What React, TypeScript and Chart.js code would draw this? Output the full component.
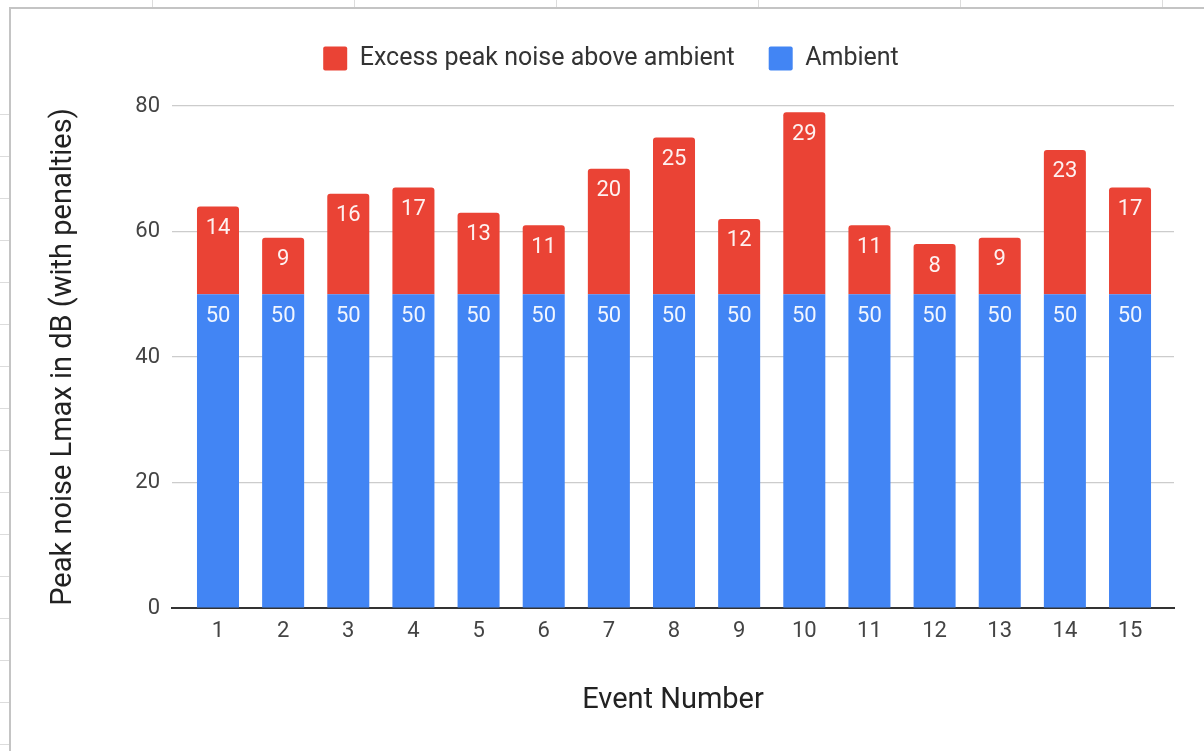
import React, { useEffect, useRef } from "react";
import { Chart, registerables } from "chart.js";

Chart.register(...registerables);

// ---- data ----
const categories: number[] = [1, 2, 3, 4, 5, 6, 7, 8, 9, 10, 11, 12, 13, 14, 15];
const ambientValues: number[] = [50, 50, 50, 50, 50, 50, 50, 50, 50, 50, 50, 50, 50, 50, 50];
const excessValues: number[] = [14, 9, 16, 17, 13, 11, 20, 25, 12, 29, 11, 8, 9, 23, 17];
const yTickValues: number[] = [0, 20, 40, 60, 80];
const excessLabel = "Excess peak noise above ambient";
const ambientLabel = "Ambient";
const xTitle = "Event Number";
const yTitle = "Peak noise Lmax in dB (with penalties)";

const RED = "#EA4335";
const BLUE = "#4285F4";
const FONT = "Roboto, 'Noto Sans', Arial, sans-serif";

const barLabels = {
  id: "barLabels",
  afterDatasetsDraw(chart: any) {
    const ctx = chart.ctx;
    ctx.save();
    ctx.font = `22px ${FONT}`;
    ctx.fillStyle = "rgba(255,255,255,0.93)";
    ctx.textAlign = "center";
    ctx.textBaseline = "middle";
    chart.data.datasets.forEach((ds: any, di: number) => {
      const meta = chart.getDatasetMeta(di);
      meta.data.forEach((el: any, i: number) => {
        const { x, y } = el.getProps(["x", "y"], true);
        const v = ds.data[i].y;
        ctx.fillText(String(v), x, y + 22);
      });
    });
    ctx.restore();
  },
};

const legendSpacer = {
  id: "legendSpacer",
  beforeInit(chart: any) {
    const legend = chart.legend;
    if (!legend) return;
    const fit = legend.fit;
    legend.fit = function () {
      fit.call(this);
      this.height += 25;
    };
  },
};

export default function App() {
  const ref = useRef<HTMLCanvasElement | null>(null);

  useEffect(() => {
    if (!ref.current) return;
    const chart = new Chart(ref.current, {
      type: "bar",
      data: {
        datasets: [
          {
            label: ambientLabel,
            data: categories.map((c, i) => ({ x: c, y: ambientValues[i] })),
            backgroundColor: BLUE,
            borderWidth: 0,
            borderRadius: 0,
            categoryPercentage: 1,
            barPercentage: 0.645,
          },
          {
            label: excessLabel,
            data: categories.map((c, i) => ({ x: c, y: excessValues[i] })),
            backgroundColor: RED,
            borderWidth: 0,
            borderRadius: { topLeft: 3, topRight: 3, bottomLeft: 0, bottomRight: 0 },
            borderSkipped: "start",
            categoryPercentage: 1,
            barPercentage: 0.645,
          },
        ],
      },
      options: {
        animation: false,
        responsive: false,
        maintainAspectRatio: false,
        layout: { padding: { top: 12, left: 18, right: 0, bottom: 0 } },
        plugins: {
          tooltip: { enabled: false },
          legend: {
            display: true,
            position: "top",
            reverse: true,
            labels: {
              font: { family: FONT, size: 25 },
              color: "#333",
              boxWidth: 24,
              boxHeight: 24,
              padding: 34,
              useBorderRadius: true,
              borderRadius: 2,
            },
          },
        },
        scales: {
          x: {
            type: "linear",
            stacked: true,
            offset: false,
            min: 0.294,
            max: 15.675,
            grid: { display: false, drawTicks: false },
            border: { display: true, color: "#333", width: 2 },
            afterFit: (s: any) => {
              s.height = 143;
            },
            afterBuildTicks: (s: any) => {
              s.ticks = categories.map((c) => ({ value: c }));
            },
            ticks: {
              autoSkip: false,
              padding: 10,
              color: "#444",
              font: { family: FONT, size: 22 },
            },
            title: {
              display: true,
              text: xTitle,
              color: "#222",
              font: { family: FONT, size: 29 },
              padding: { top: 0, bottom: 33 },
            },
          },
          y: {
            stacked: true,
            min: 0,
            max: 80,
            afterFit: (s: any) => {
              s.width = 154;
            },
            afterBuildTicks: (s: any) => {
              s.ticks = yTickValues.map((v) => ({ value: v }));
            },
            grid: { color: "#cccccc", lineWidth: 1.2, drawTicks: false },
            border: { display: false },
            ticks: {
              padding: 12,
              color: "#444",
              font: { family: FONT, size: 22 },
            },
            title: {
              display: true,
              text: yTitle,
              color: "#222",
              font: { family: FONT, size: 29 },
              padding: { top: 28, bottom: 0 },
            },
          },
          yRightSpace: {
            type: "linear",
            position: "right",
            display: true,
            grid: { display: false, drawTicks: false },
            border: { display: false },
            ticks: { display: false },
            afterFit: (s: any) => {
              s.width = 30;
            },
          },
        },
      },
      plugins: [barLabels, legendSpacer],
    } as any);
    return () => chart.destroy();
  }, []);

  const colLines = [152, 354, 556, 758, 960, 1162];
  const rowLines = Array.from({ length: 16 }, (_, k) => 114 + 42 * k);

  return (
    <div
      style={{
        position: "absolute",
        left: 0,
        top: 0,
        width: 1204,
        height: 751,
        overflow: "hidden",
        background: "#fff",
      }}
    >
      {colLines.map((x) => (
        <div key={"c" + x} style={{ position: "absolute", left: x, top: 0, width: 1, height: 8, background: "#dcdcdc" }} />
      ))}
      {rowLines.map((y) => (
        <div key={"r" + y} style={{ position: "absolute", left: 0, top: y, width: 9, height: 1, background: "#dcdcdc" }} />
      ))}
      <div
        style={{
          position: "absolute",
          left: 9,
          top: 7,
          right: -10,
          bottom: -10,
          borderLeft: "2px solid #c4c4c4",
          borderTop: "2px solid #c4c4c4",
          background: "#fff",
        }}
      />
      <canvas
        ref={ref}
        width={1204}
        height={751}
        style={{ position: "absolute", left: 0, top: 0, width: 1204, height: 751 }}
      />
    </div>
  );
}
